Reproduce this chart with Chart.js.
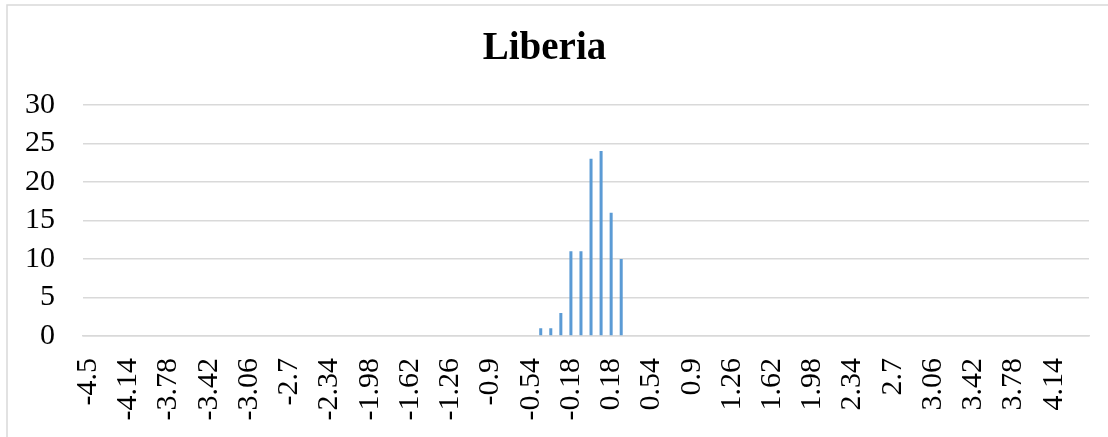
<!DOCTYPE html>
<html>
<head>
<meta charset="utf-8">
<script src="https://cdn.jsdelivr.net/npm/chart.js@4.4.0/dist/chart.umd.min.js"></script>
<style>
  html, body { margin: 0; padding: 0; background: #fff; }
  #wrap { position: relative; width: 1108px; height: 437px; overflow: hidden; }
  canvas { display: block; }
</style>
</head>
<body>
<div id="wrap"><canvas id="c" width="1108" height="437"></canvas></div>
<script>
const chartTitle = "Liberia";

const categories = [
  "-4.5","-4.41","-4.32","-4.23","-4.14","-4.05","-3.96","-3.87","-3.78","-3.69",
  "-3.6","-3.51","-3.42","-3.33","-3.24","-3.15","-3.06","-2.97","-2.88","-2.79",
  "-2.7","-2.61","-2.52","-2.43","-2.34","-2.25","-2.16","-2.07","-1.98","-1.89",
  "-1.8","-1.71","-1.62","-1.53","-1.44","-1.35","-1.26","-1.17","-1.08","-0.99",
  "-0.9","-0.81","-0.72","-0.63","-0.54","-0.45","-0.36","-0.27","-0.18","-0.09",
  "0","0.09","0.18","0.27","0.36","0.45","0.54","0.63","0.72","0.81",
  "0.9","0.99","1.08","1.17","1.26","1.35","1.44","1.53","1.62","1.71",
  "1.8","1.89","1.98","2.07","2.16","2.25","2.34","2.43","2.52","2.61",
  "2.7","2.79","2.88","2.97","3.06","3.15","3.24","3.33","3.42","3.51",
  "3.6","3.69","3.78","3.87","3.96","4.05","4.14","4.23","4.32","4.41"
];

const frequencies = [
  0,0,0,0,0,0,0,0,0,0,
  0,0,0,0,0,0,0,0,0,0,
  0,0,0,0,0,0,0,0,0,0,
  0,0,0,0,0,0,0,0,0,0,
  0,0,0,0,0,1,1,3,11,11,
  23,24,16,10,0,0,0,0,0,0,
  0,0,0,0,0,0,0,0,0,0,
  0,0,0,0,0,0,0,0,0,0,
  0,0,0,0,0,0,0,0,0,0,
  0,0,0,0,0,0,0,0,0,0
];

const yTicks = [0, 5, 10, 15, 20, 25, 30];
const labelEvery = 4;

const borderPlugin = {
  id: 'frame',
  afterDraw(chart) {
    const ctx = chart.ctx;
    ctx.save();
    ctx.strokeStyle = '#d9d9d9';
    ctx.lineWidth = 1.5;
    ctx.strokeRect(7, 5, 1300, 600);
    ctx.restore();
  }
};

new Chart(document.getElementById('c'), {
  type: 'bar',
  data: {
    labels: categories,
    datasets: [{
      data: frequencies,
      backgroundColor: '#5B9BD5',
      borderWidth: 0,
      barPercentage: 0.3,
      categoryPercentage: 1.0
    }]
  },
  options: {
    responsive: false,
    animation: false,
    devicePixelRatio: 1,
    layout: { padding: { left: 0, right: 19, top: 0, bottom: 0 } },
    plugins: {
      legend: { display: false },
      tooltip: { enabled: false },
      title: {
        display: true,
        text: chartTitle,
        color: '#000',
        font: { family: 'Liberation Serif', size: 39, weight: 'bold', lineHeight: 1.2 },
        padding: { top: 26, bottom: 32 }
      }
    },
    scales: {
      x: {
        grid: { display: false, drawTicks: false },
        border: { display: true, color: '#d9d9d9', width: 1.5 },
        ticks: {
          autoSkip: false,
          maxRotation: 90,
          minRotation: 90,
          padding: 22,
          color: '#000',
          font: { family: 'Liberation Serif', size: 30 },
          callback: function(value, index) {
            return index % labelEvery === 0 ? categories[index] : '';
          }
        },
        afterFit(scale) {
          scale.height = 101;
          scale.paddingLeft = 0;
          scale.paddingRight = 0;
        }
      },
      y: {
        min: yTicks[0],
        max: yTicks[yTicks.length - 1],
        afterBuildTicks(scale) { scale.ticks = yTicks.map(v => ({ value: v })); },
        grid: { color: '#d9d9d9', lineWidth: 1.5, drawTicks: false },
        border: { display: false },
        ticks: {
          autoSkip: false,
          padding: 28,
          color: '#000',
          font: { family: 'Liberation Serif', size: 30, lineHeight: 1 }
        },
        afterFit(scale) { scale.width = 83; }
      }
    }
  },
  plugins: [borderPlugin]
});
</script>
</body>
</html>
